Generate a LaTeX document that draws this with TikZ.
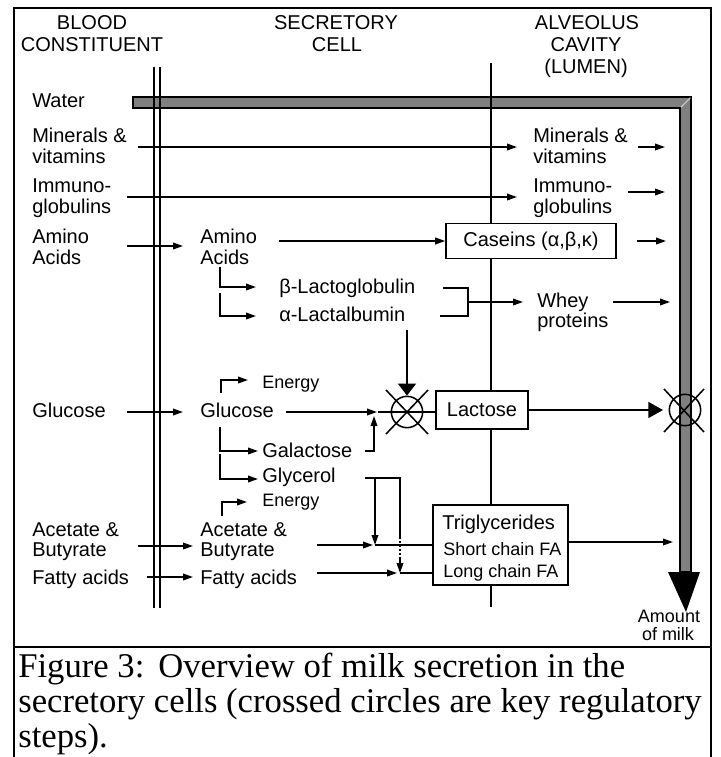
\documentclass[tikz,border=0pt]{standalone}
\usepackage{fontspec}
\setmainfont{Liberation Sans}
\newfontfamily\capfont{Liberation Serif}
\usetikzlibrary{arrows.meta}
\definecolor{pipegray}{RGB}{128,128,128}
\definecolor{pipelight}{RGB}{205,205,205}
\begin{document}
\begin{tikzpicture}[x=0.75pt,y=-0.75pt,
  lbl/.style={anchor=base west,inner sep=0pt,font=\fontsize{15}{15.75}\selectfont},
  slbl/.style={anchor=base west,inner sep=0pt,font=\fontsize{13.5}{14}\selectfont},
  hdr/.style={anchor=base,inner sep=0pt,font=\fontsize{15}{15.75}\selectfont},
  amt/.style={anchor=base,inner sep=0pt,font=\fontsize{13.5}{14}\selectfont},
  ln/.style={line width=1.15pt},
  arr/.style={line width=1.15pt,-{Triangle[length=7.5pt,width=5pt]}},
  bigarr/.style={line width=1.15pt,-{Triangle[length=11pt,width=12pt]}},
  downarr/.style={line width=1.15pt,-{Triangle[length=9pt,width=13.5pt]}},
  dotln/.style={line width=1.15pt,dash pattern=on 1.5pt off 1.5pt},
  boxn/.style={draw,line width=1.15pt,fill=white,inner sep=0pt,font=\fontsize{15}{15.75}\selectfont},
  regc/.style={circle,draw,line width=1.15pt,inner sep=0pt,minimum size=23.5pt},
  frameln/.style={line width=2.2pt},
  caption/.style={anchor=base west,inner sep=0pt,font=\capfont\fontsize{26}{26.25}\selectfont}
]
\useasboundingbox (0,0) rectangle (721,757);
\fill[white] (0,0) rectangle (721,757);

% outer frame and separator
\draw[frameln] (14,760) -- (14,8) -- (711,8) -- (711,760);
\draw[frameln] (14,647) -- (711,647);

% headers
\node[hdr] (h1a) at (92,29) {BLOOD};
\node[hdr] (h1b) at (92,51) {CONSTITUENT};
\node[hdr] (h2a) at (336,29) {SECRETORY};
\node[hdr] (h2b) at (337,51) {CELL};
\node[hdr] (h3a) at (587,29) {ALVEOLUS};
\node[hdr] (h3b) at (586,51) {CAVITY};
\node[hdr] (h3c) at (586,73) {(LUMEN)};

% water pipe
\draw[line width=1.15pt,fill=pipegray] (133,97) -- (691,97) -- (691,572) -- (680,572) -- (680,108) -- (133,108) -- cycle;
\draw[pipelight,line width=0.8pt] (680.8,107.2) -- (690.3,97.7);
\fill (668,572) -- (700,572) -- (686,612) -- cycle;

% membranes
\draw[ln] (154,67) -- (154,608);
\draw[ln] (160,67) -- (160,608);
\draw[ln] (491,63) -- (491,607);

% left labels
\node[lbl] (water) at (32,107) {Water};
\node[lbl] (minA) at (32,142) {Minerals \&};
\node[lbl] (minB) at (32,163) {vitamins};
\node[lbl] (imA) at (32,192) {Immuno-};
\node[lbl] (imB) at (32,213) {globulins};
\node[lbl] (aaA) at (32,243) {Amino};
\node[lbl] (aaB) at (32,264) {Acids};
\node[lbl] (glu) at (32,417) {Glucose};
\node[lbl] (acA) at (32,536) {Acetate \&};
\node[lbl] (acB) at (32,556) {Butyrate};
\node[lbl] (fa) at (32,584) {Fatty acids};

% cell labels
\node[lbl] (caaA) at (200,243) {Amino};
\node[lbl] (caaB) at (200,264) {Acids};
\node[lbl] (bl) at (279,293) {β-Lactoglobulin};
\node[lbl] (al) at (279,321) {α-Lactalbumin};
\node[slbl] (en1) at (262,388) {Energy};
\node[lbl] (cglu) at (200,417) {Glucose};
\node[lbl] (gal) at (262,457) {Galactose};
\node[lbl] (gly) at (262,482) {Glycerol};
\node[slbl] (en2) at (262,506) {Energy};
\node[lbl] (cacA) at (200,536) {Acetate \&};
\node[lbl] (cacB) at (200,556) {Butyrate};
\node[lbl] (cfa) at (200,584) {Fatty acids};

% lumen labels
\node[lbl] (rminA) at (533,142) {Minerals \&};
\node[lbl] (rminB) at (533,163) {vitamins};
\node[lbl] (rimA) at (533,192) {Immuno-};
\node[lbl] (rimB) at (533,213) {globulins};
\node[lbl] (wA) at (537,307) {Whey};
\node[lbl] (wB) at (537,327) {proteins};

% boxes
\node[boxn,minimum width=127.5pt,minimum height=26.25pt] (cas) at (531,241) {Caseins (α,β,κ)};
\node[boxn,minimum width=69pt,minimum height=28.5pt] (lac) at (482,410) {Lactose};
\node[boxn,minimum width=101.25pt,minimum height=60pt] (tri) at (500.5,545) {};
\node[lbl] (triA) at (442,529) {Triglycerides};
\node[slbl] (triB) at (443,555) {Short chain FA};
\node[slbl] (triC) at (443,577) {Long chain FA};

% amount of milk
\node[amt] (am1) at (669,622) {Amount};
\node[amt] (am2) at (668,640) {of milk};

% regulatory circles
\node[regc] (reg1) at (407,412) {};
\node[regc] (reg2) at (685,410) {};

% coordinates
\coordinate (minS) at (138,147);  \coordinate (minE) at (517,147);
\coordinate (rminS) at (638,147); \coordinate (rminE) at (665,147);
\coordinate (imS) at (127,197);   \coordinate (imE) at (517,197);
\coordinate (rimS) at (628,192);  \coordinate (rimE) at (665,192);
\coordinate (aaS) at (127,246);   \coordinate (aaE) at (183,246);
\coordinate (caaS) at (279,241);
\coordinate (casS) at (637,241); \coordinate (casE) at (666,241);
\coordinate (b1a) at (220,267); \coordinate (b1b) at (220,287); \coordinate (b1c) at (256,287);
\coordinate (b2a) at (220,293); \coordinate (b2b) at (220,316); \coordinate (b2c) at (256,316);
\coordinate (k1) at (443,288); \coordinate (k2) at (468,288); \coordinate (k3) at (468,316); \coordinate (k4) at (440,316);
\coordinate (kM) at (468,302); \coordinate (kE) at (523,302);
\coordinate (wS) at (613,302); \coordinate (wE) at (670,302);
\coordinate (alS) at (407,330);
\coordinate (e1a) at (221,393); \coordinate (e1b) at (221,380); \coordinate (e1c) at (248,380);
\coordinate (gluS) at (127,412); \coordinate (gluE) at (183,412);
\coordinate (cgluS) at (286,412); \coordinate (cgluE) at (377,412);
\coordinate (cgluM) at (378,412); \coordinate (lacIn) at (436,412);
\coordinate (g1a) at (220,427); \coordinate (g1b) at (220,451); \coordinate (g1c) at (258,451);
\coordinate (ga1) at (365,451); \coordinate (ga2) at (374,451); \coordinate (ga3) at (374,416);
\coordinate (g2a) at (220,454); \coordinate (g2b) at (220,479); \coordinate (g2c) at (258,479);
\coordinate (gy1) at (365,478); \coordinate (gy2) at (400,478);
\coordinate (gyA) at (375,478); \coordinate (gyAe) at (375,545);
\coordinate (gyB1) at (400,537); \coordinate (gyB2) at (400,557); \coordinate (gyBe) at (400,573);
\coordinate (e2a) at (222,516); \coordinate (e2b) at (222,502); \coordinate (e2c) at (247,502);
\coordinate (acS) at (138,546); \coordinate (acE) at (193,546);
\coordinate (faS) at (147,577); \coordinate (faE) at (193,577);
\coordinate (cacS) at (317,545); \coordinate (cacE) at (373,545); \coordinate (cacM) at (375,545);
\coordinate (cfaS) at (317,573); \coordinate (cfaE) at (397,573); \coordinate (cfaM) at (400,573);
\coordinate (cfaT) at (433,573);
\coordinate (triS) at (568,542); \coordinate (triE) at (673,542);
\coordinate (lacE) at (663,410);

% connectors
\draw[arr] (minS) -- (minE);
\draw[arr] (rminS) -- (rminE);
\draw[arr] (imS) -- (imE);
\draw[arr] (rimS) -- (rimE);
\draw[arr] (aaS) -- (aaE);
\draw[arr] (caaS) -- (cas.west);
\draw[arr] (casS) -- (casE);
\draw[arr] (b1a) -- (b1b) -- (b1c);
\draw[arr] (b2a) -- (b2b) -- (b2c);
\draw[ln] (k1) -- (k2) -- (k3) -- (k4);
\draw[arr] (kM) -- (kE);
\draw[arr] (wS) -- (wE);
\draw[downarr] (alS) -- (reg1.north);
\draw[arr] (e1a) -- (e1b) -- (e1c);
\draw[arr] (gluS) -- (gluE);
\draw[arr] (cgluS) -- (cgluE);
\draw[ln] (cgluM) -- (lacIn);
\draw[arr] (g1a) -- (g1b) -- (g1c);
\draw[arr] (ga1) -- (ga2) -- (ga3);
\draw[arr] (g2a) -- (g2b) -- (g2c);
\draw[ln] (gy1) -- (gy2) -- (gyB1);
\draw[dotln] (gyB1) -- (gyB2);
\draw[arr] (gyB2) -- (gyBe);
\draw[arr] (gyA) -- (gyAe);
\draw[arr] (e2a) -- (e2b) -- (e2c);
\draw[arr] (acS) -- (acE);
\draw[arr] (faS) -- (faE);
\draw[arr] (cacS) -- (cacE);
\draw[ln] (cacM) -- (tri.west);
\draw[arr] (cfaS) -- (cfaE);
\draw[ln] (cfaM) -- (cfaT);
\draw[arr] (triS) -- (triE);
\draw[bigarr] (lac.east) -- (lacE);

% crosses on regulatory circles
\draw[ln] ([shift={(-21,-22)}]reg1.center) -- ([shift={(21,22)}]reg1.center);
\draw[ln] ([shift={(21,-22)}]reg1.center) -- ([shift={(-21,22)}]reg1.center);
\draw[ln] ([shift={(-21,-21)}]reg2.center) -- ([shift={(19,22)}]reg2.center);
\draw[ln] ([shift={(19,-21)}]reg2.center) -- ([shift={(-21,22)}]reg2.center);

% caption
\node[caption] (cap1) at (18,677) {Figure 3:\hspace{0.4em}Overview of milk secretion in the};
\node[caption] (cap2) at (18,712) {secretory cells (crossed circles are key regulatory};
\node[caption] (cap3) at (18,747) {steps).};
\end{tikzpicture}
\end{document}
